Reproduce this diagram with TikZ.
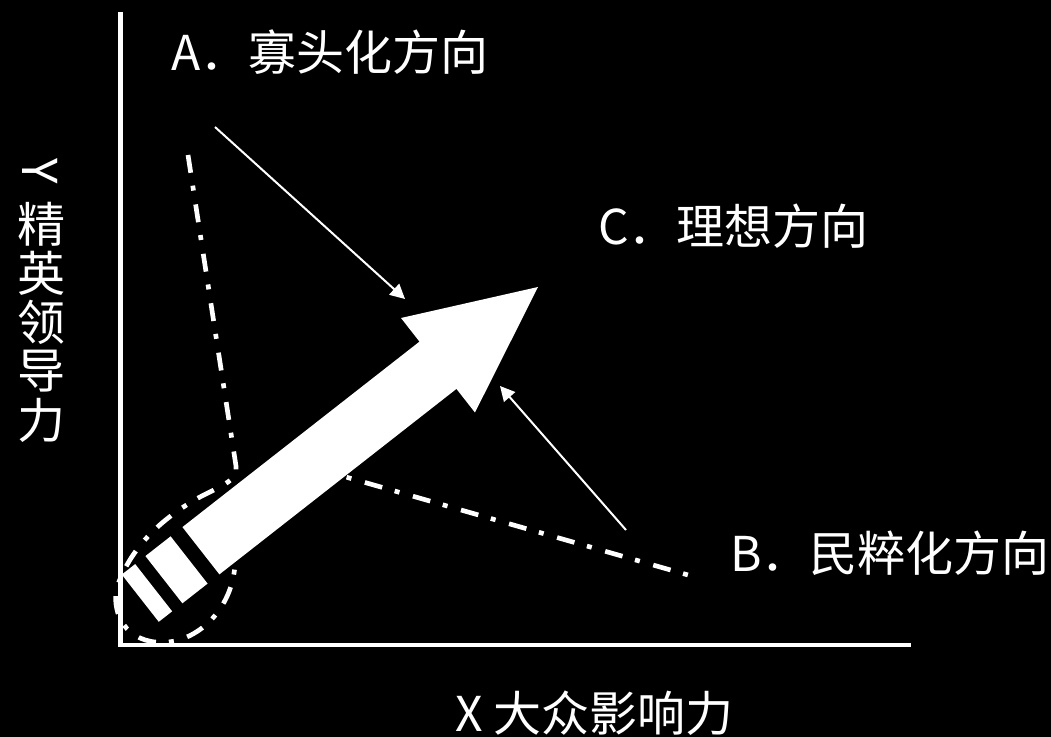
\documentclass[tikz,border=0pt]{standalone}
\usepackage{fontspec}
\setmainfont{Noto Sans CJK SC}
\usetikzlibrary{arrows.meta}
\tikzset{
  axis/.style={white, line width=3.4pt},
  guide/.style={white, line width=3.5pt, dash pattern=on 13.5pt off 9.75pt on 3.75pt off 10.5pt},
  pointer/.style={white, line width=1.5pt, -{Triangle[length=11pt,width=11pt]}},
  lbl/.style={white, font=\fontsize{36}{40}\selectfont, inner sep=0pt},
}

\begin{document}
\begin{tikzpicture}[x=0.75pt,y=-0.75pt]
        % background
        \fill[black] (0,0) rectangle (1051,737);

        % range of directions
        \draw[guide] (188,155) -- (236,466)
            .. controls (238,480) and (225,484) .. (200,497)
            .. controls (155,522) and (128,553) .. (116,590)
            .. controls (112,628) and (140,648) .. (175,641)
            .. controls (205,634) and (232,605) .. (235,565)
            .. controls (237,520) and (250,452) .. (290,461)
            -- (688,575);

        % axes
        \coordinate (ytop) at (120.5,12);
        \coordinate (origin) at (120.5,645);
        \coordinate (xend) at (911,645);
        \draw[axis] (ytop) -- (origin) -- (xend);

        % big arrow
        \begin{scope}[shift={(538,287)},rotate=218.04]
            \fill[white] (0,0) -- (127,60) -- (127,30) -- (428,30)
                -- (428,-30) -- (127,-30) -- (127,-60) -- cycle;
            \fill[white] (443,30) rectangle (475,-30);
            \fill[white] (488,30) rectangle (505,-30);
        \end{scope}

        % pointers
        \coordinate (a1) at (215,127);
        \coordinate (a2) at (405,299);
        \coordinate (b1) at (626,530);
        \coordinate (b2) at (500,386);
        \draw[pointer] (a1) -- (a2);
        \draw[pointer] (b1) -- (b2);

        % labels
        \node[lbl,anchor=west] (dirA) at (171,52) {A．寡头化方向};
        \node[lbl,anchor=west] (dirC) at (598,226) {C．理想方向};
        \node[lbl,anchor=west] (dirB) at (730,553) {B．民粹化方向};
        \node[lbl,anchor=west] (xlab) at (455,713) {X 大众影响力};
        \node[lbl,rotate=-90] (ylab0) at (40,171) {Y};
        \foreach \ch [count=\i] in {精,英,领,导,力}
            \node[lbl] (ylab\i) at (41,{175+49*\i}) {\ch};
    \end{tikzpicture}
\end{document}
